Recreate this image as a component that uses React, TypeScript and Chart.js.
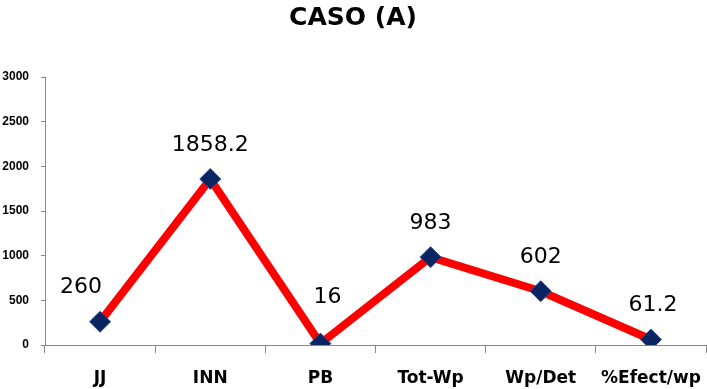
import React, { useEffect, useRef } from "react";
import { Chart, registerables } from "chart.js";

Chart.register(...registerables);

const categories = ["JJ", "INN", "PB", "Tot-Wp", "Wp/Det", "%Efect/wp"];
const values = [260, 1858.2, 16, 983, 602, 61.2];
const valueLabels = ["260", "1858.2", "16", "983", "602", "61.2"];
const yMin = 0;
const yMax = 3000;
const yStep = 500;
const title = "CASO (A)";

const labelShift: Record<number, { dx: number; dy: number }> = {
  0: { dx: -19, dy: 0 },
  2: { dx: 7, dy: -12 },
  5: { dx: 2, dy: 0 },
};

const valueLabelPlugin = {
  id: "valueLabels",
  afterDatasetsDraw(chart: any) {
    const meta = chart.getDatasetMeta(0);
    const ctx = chart.ctx;
    ctx.save();
    ctx.font = "22px 'DejaVu Sans', sans-serif";
    ctx.fillStyle = "#000";
    ctx.textAlign = "center";
    ctx.textBaseline = "middle";
    meta.data.forEach((pt: any, i: number) => {
      const s = labelShift[i] || { dx: 0, dy: 0 };
      ctx.fillText(valueLabels[i], pt.x + s.dx, pt.y - 34 + s.dy);
    });
    ctx.restore();
  },
};

export default function App() {
  const ref = useRef<HTMLCanvasElement>(null);
  useEffect(() => {
    if (!ref.current) return;
    const chart = new Chart(ref.current, {
      type: "line",
      data: {
        labels: categories,
        datasets: [
          {
            data: values,
            borderColor: "#ff0000",
            borderWidth: 8,
            tension: 0,
            pointStyle: "rectRot",
            pointRadius: 10.5,
            pointBackgroundColor: "#0b2462",
            pointBorderColor: "#2e4c8c",
            pointBorderWidth: 1,
          },
        ],
      },
      options: {
        responsive: false,
        animation: false,
        layout: { autoPadding: false, padding: { right: 1, left: 0, top: 0, bottom: 0 } },
        plugins: {
          legend: { display: false },
          tooltip: { enabled: false },
          title: {
            display: true,
            text: title,
            color: "#000",
            font: { family: "'DejaVu Sans', sans-serif", size: 25, weight: "bold" },
            padding: { top: 3, bottom: 44 },
          },
        },
        scales: {
          x: {
            offset: true,
            grid: {
              offset: true,
              drawOnChartArea: false,
              drawTicks: true,
              tickLength: 8,
              color: "#888",
            },
            border: { display: true, color: "#888", width: 1 },
            ticks: {
              color: "#000",
              font: { family: "'DejaVu Sans', sans-serif", size: 17, weight: "bold" },
              padding: 15,
              maxRotation: 0,
              autoSkip: false,
            },
            afterFit: (scale: any) => {
              scale.height = 44;
              scale.paddingLeft = 0;
              scale.paddingRight = 0;
            },
          },
          y: {
            min: yMin,
            max: yMax,
            grid: {
              drawOnChartArea: false,
              drawTicks: true,
              tickLength: 4,
              color: "#888",
            },
            border: { display: true, color: "#888", width: 1 },
            ticks: {
              stepSize: yStep,
              color: "#000",
              font: { family: "'Liberation Sans', Arial, sans-serif", size: 12, weight: "bold" },
              padding: 12,
              callback: (v: any) => String(v),
            },
            afterFit: (scale: any) => {
              scale.width = 45;
            },
          },
        },
      },
      plugins: [valueLabelPlugin],
    });
    return () => chart.destroy();
  }, []);
  return (
    <div style={{ position: "fixed", left: 0, top: 0, width: 707, height: 389, background: "#fff" }}>
      <canvas ref={ref} width={707} height={389} style={{ display: "block" }} />
    </div>
  );
}
